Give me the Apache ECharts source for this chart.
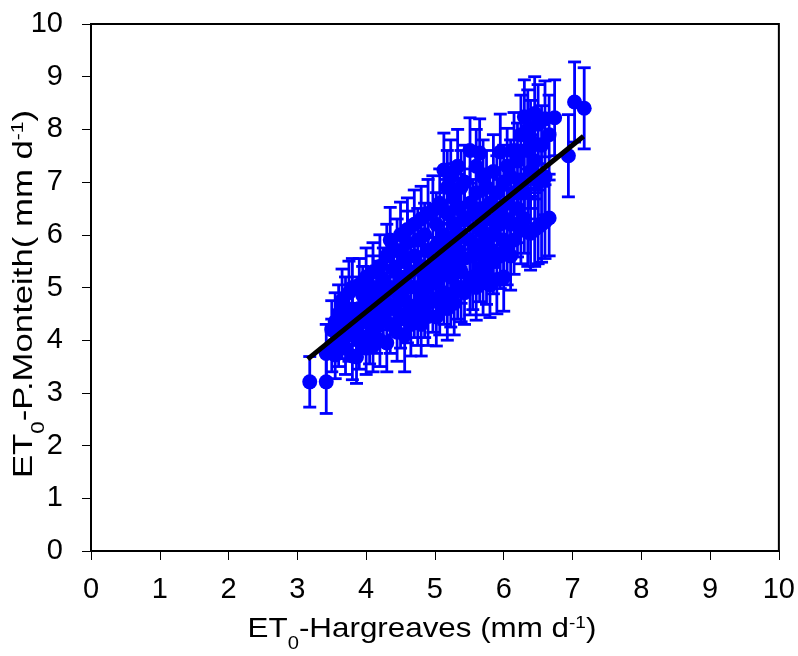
<!DOCTYPE html>
<html>
<head>
<meta charset="utf-8">
<script src="https://cdn.jsdelivr.net/npm/echarts@6/dist/echarts.min.js"></script>
<style>html,body{margin:0;padding:0;background:#fff}#c{width:798px;height:656px}</style>
</head>
<body>
<div id="c"></div>
<script>
// ET0 Hargreaves (x), mm/d
const hargreaves = [
  3.18,
  3.42,3.42,
  3.50,3.50,
  3.55,3.55,
  3.60,3.60,
  3.65,3.65,
  3.70,3.70,3.70,
  3.75,3.75,
  3.80,3.80,3.80,
  3.86,3.86,
  3.90,3.90,3.90,
  3.95,3.95,
  4.00,4.00,4.00,
  4.05,4.05,
  4.10,4.10,4.10,4.10,
  4.15,4.15,
  4.20,4.20,4.20,
  4.25,4.25,
  4.30,4.30,4.30,
  4.35,4.35,4.35,
  4.40,4.40,
  4.45,4.45,4.45,
  4.50,4.50,4.50,
  4.56,4.56,4.56,
  4.60,4.60,4.60,4.60,
  4.65,4.65,
  4.70,4.70,4.70,
  4.75,4.75,4.75,
  4.80,4.80,4.80,4.80,
  4.85,4.85,4.85,
  4.90,4.90,4.90,4.90,
  4.97,4.97,4.97,
  5.02,5.02,5.02,5.02,
  5.07,5.07,5.07,
  5.13,5.13,5.13,5.13,
  5.18,5.18,5.18,5.18,
  5.23,5.23,5.23,5.23,
  5.28,5.28,5.28,5.28,
  5.33,5.33,5.33,5.33,
  5.38,5.38,5.38,5.38,
  5.43,5.43,5.43,5.43,
  5.51,5.51,5.51,5.51,
  5.55,5.55,5.55,
  5.60,5.60,5.60,5.60,
  5.65,5.65,5.65,
  5.70,5.70,5.70,5.70,
  5.75,5.75,5.75,5.75,
  5.80,5.80,5.80,
  5.85,5.85,5.85,
  5.90,5.90,5.90,
  5.95,5.95,5.95,
  6.00,6.00,6.00,
  6.05,6.05,6.05,
  6.10,6.10,6.10,
  6.15,6.15,6.15,
  6.20,6.20,6.20,
  6.25,6.25,6.25,
  6.30,6.30,6.30,
  6.35,6.35,6.35,
  6.39,6.39,6.39,
  6.45,6.45,6.45,
  6.50,6.50,6.50,
  6.55,6.55,
  6.60,6.60,6.60,
  6.66,6.66,
  6.74,
  6.94,
  7.03,
  7.17
];
// ET0 Penman-Monteith (y), mm/d
const monteith = [
  3.21,
  3.21,3.75,
  3.90,4.20,
  3.72,4.35,
  4.00,4.50,
  4.15,4.75,
  3.85,4.30,4.60,
  4.10,4.90,
  3.70,4.45,5.00,
  3.68,4.20,
  4.00,4.60,5.05,
  4.35,4.85,
  3.85,4.50,5.20,
  4.10,4.75,
  3.90,4.40,5.00,5.30,
  4.25,4.65,
  4.00,4.90,5.40,
  4.45,5.15,
  3.95,4.70,5.60,
  4.30,5.00,5.90,
  4.60,5.35,
  4.15,4.90,5.70,
  4.40,5.20,6.00,
  4.10,4.75,5.50,
  4.50,5.05,5.85,6.10,
  4.30,5.30,
  4.65,5.60,6.20,
  4.45,5.00,5.90,
  4.30,4.80,5.40,6.30,
  4.60,5.20,6.00,
  4.45,5.00,5.70,6.40,
  4.75,5.35,6.47,
  4.44,5.10,5.80,6.20,
  4.70,5.50,6.60,
  4.90,5.30,6.00,7.23,
  4.60,5.60,6.40,6.90,
  4.85,5.20,5.90,7.10,
  4.70,5.45,6.20,6.70,
  5.00,5.70,6.50,7.30,
  5.00,5.30,6.00,6.90,
  4.90,5.55,6.30,7.00,
  5.10,5.90,6.60,7.60,
  5.20,5.60,6.40,
  5.00,5.80,6.80,7.30,
  5.35,6.10,7.55,
  5.10,5.60,6.50,7.10,
  5.30,5.90,6.30,6.90,
  5.05,5.70,6.60,
  5.50,6.00,7.20,
  5.15,6.20,6.80,
  5.60,6.40,7.57,
  5.20,5.90,7.00,
  5.70,6.60,7.30,
  5.60,6.20,7.10,
  5.90,6.80,7.60,
  6.20,6.50,7.40,
  6.10,7.00,7.90,
  6.30,6.80,8.24,
  6.05,7.60,8.00,
  6.03,7.20,7.80,
  6.10,7.40,8.30,
  6.15,7.00,8.10,
  6.20,7.70,
  6.25,7.10,8.20,
  6.32,7.90,
  8.22,
  7.50,
  8.52,
  8.40
];
// standard deviation (error bar half-length), mm/d
const stdDev = [
  0.48,
  0.60,0.55,
  0.50,0.55,
  0.45,0.55,
  0.50,0.55,
  0.50,0.60,
  0.50,0.55,0.60,
  0.50,0.60,
  0.45,0.55,0.55,
  0.50,0.50,
  0.55,0.60,0.50,
  0.50,0.55,
  0.50,0.60,0.55,
  0.55,0.50,
  0.50,0.55,0.60,0.55,
  0.50,0.55,
  0.50,0.60,0.60,
  0.55,0.60,
  0.55,0.50,0.60,
  0.55,0.60,0.62,
  0.50,0.60,
  0.55,0.60,0.60,
  0.55,0.60,0.62,
  0.70,0.55,0.60,
  0.55,0.60,0.60,0.60,
  0.60,0.55,
  0.60,0.60,0.65,
  0.55,0.60,0.60,
  0.60,0.55,0.60,0.62,
  0.55,0.60,0.60,
  0.55,0.60,0.60,0.65,
  0.60,0.60,0.65,
  0.55,0.60,0.60,0.60,
  0.60,0.60,0.65,
  0.60,0.60,0.62,0.70,
  0.60,0.62,0.65,0.70,
  0.60,0.60,0.62,0.70,
  0.60,0.60,0.65,0.65,
  0.60,0.62,0.65,0.70,
  0.65,0.60,0.62,0.70,
  0.60,0.62,0.65,0.70,
  0.62,0.62,0.65,0.62,
  0.62,0.60,0.65,
  0.62,0.62,0.70,0.70,
  0.62,0.65,0.65,
  0.62,0.62,0.65,0.70,
  0.62,0.62,0.65,0.70,
  0.62,0.62,0.65,
  0.62,0.62,0.70,
  0.65,0.65,0.70,
  0.62,0.65,0.72,
  0.65,0.65,0.70,
  0.65,0.65,0.72,
  0.65,0.65,0.70,
  0.65,0.70,0.72,
  0.62,0.65,0.72,
  0.65,0.70,0.75,
  0.65,0.70,0.70,
  0.65,0.72,0.75,
  0.70,0.70,0.75,
  0.70,0.72,0.70,
  0.70,0.70,0.75,
  0.72,0.75,
  0.70,0.72,0.72,
  0.72,0.75,
  0.72,
  0.78,
  0.76,
  0.77
];
// regression line end points
const regX = [3.15, 7.16];
const regY = [3.64, 7.87];
const axisTicks = [0,1,2,3,4,5,6,7,8,9,10];
const xTitle = '{a|ET}{sub|0}{a|-Hargreaves (mm d}{sup|-1}{a|)}';
const yTitle = '{a|ET}{sub|0}{a|-P.Monteith( mm d}{sup|-1}{a|)}';

const n = Math.min(hargreaves.length, monteith.length, stdDev.length);
const pts = [];
for (let i = 0; i < n; i++) pts.push([hargreaves[i], monteith[i], stdDev[i]]);
const regLine = regX.map((x, i) => [x, regY[i]]);

const FONT = 'Liberation Sans, Arial, sans-serif';
const BLUE = '#0000ff';
const rich = {
  a: {fontSize: 28, fontFamily: FONT, fill: '#000', lineHeight: 28, verticalAlign: 'top'},
  sub: {fontSize: 18, fontFamily: FONT, fill: '#000', lineHeight: 18, verticalAlign: 'top', padding: [20, 0, 0, 0]},
  sup: {fontSize: 17, fontFamily: FONT, fill: '#000', lineHeight: 16, verticalAlign: 'top'}
};

const chart = echarts.init(document.getElementById('c'));
const axisCommon = {
  type: 'value', min: 0, max: 10, interval: 1,
  axisLine: {show: true, onZero: false, lineStyle: {color: '#000', width: 2}},
  axisTick: {show: true, length: 9, lineStyle: {color: '#000', width: 1}},
  axisLabel: {color: '#000', fontSize: 29, fontFamily: FONT,
    formatter: v => axisTicks.includes(v) ? String(v) : ''},
  splitLine: {show: false}
};
chart.setOption({
  animation: false,
  backgroundColor: '#fff',
  grid: {left: 91, right: 16, top: 24, bottom: 105, show: true, borderColor: '#000', borderWidth: 2},
  xAxis: Object.assign({}, axisCommon, {
    axisLabel: Object.assign({}, axisCommon.axisLabel, {margin: 24})
  }),
  yAxis: Object.assign({}, axisCommon, {
    axisLabel: Object.assign({}, axisCommon.axisLabel, {margin: 28})
  }),
  graphic: [
    {type: 'text', x: 422, y: 615, scaleX: 1.12,
     style: {text: xTitle, rich: rich, align: 'center', verticalAlign: 'top', fill: '#000'}},
    {type: 'text', x: 10, y: 294, rotation: Math.PI / 2, scaleX: 1.24,
     style: {text: yTitle, rich: rich, align: 'center', verticalAlign: 'top', fill: '#000'}}
  ],
  series: [
    {
      type: 'custom',
      data: pts,
      encode: {x: 0, y: 1},
      z: 2,
      renderItem: function (params, api) {
        const x = api.value(0), y = api.value(1), e = api.value(2);
        const t = api.coord([x, y + e]);
        const b = api.coord([x, y - e]);
        const hw = 6.5;
        const st = {stroke: BLUE, lineWidth: 2.8};
        return {type: 'group', children: [
          {type: 'line', shape: {x1: t[0], y1: t[1], x2: b[0], y2: b[1]}, style: st},
          {type: 'line', shape: {x1: t[0] - hw, y1: t[1], x2: t[0] + hw, y2: t[1]}, style: st},
          {type: 'line', shape: {x1: b[0] - hw, y1: b[1], x2: b[0] + hw, y2: b[1]}, style: st}
        ]};
      }
    },
    {
      type: 'scatter',
      data: pts.map(p => [p[0], p[1]]),
      symbol: 'circle',
      symbolSize: 15,
      itemStyle: {color: BLUE, opacity: 1},
      z: 3
    },
    {
      type: 'line',
      data: regLine,
      symbol: 'none',
      lineStyle: {color: '#000', width: 5},
      z: 4
    }
  ]
});
</script>
</body>
</html>
